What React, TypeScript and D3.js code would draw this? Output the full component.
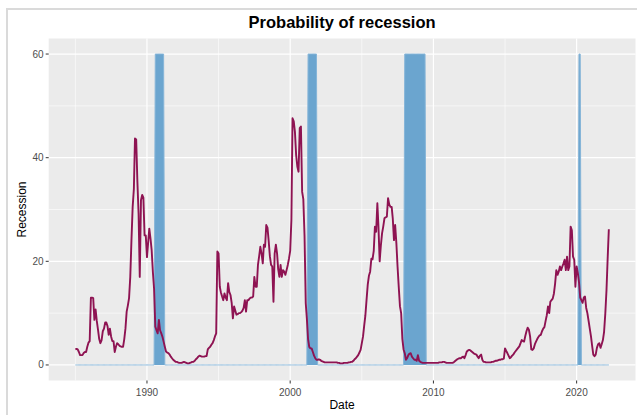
import React from "react";
import * as d3 from "d3";

// ---- data ----
const startYear = 1985; // monthly series starting January 1985
const probability: number[] = [
  // 1985
  3.0, 3.1, 3.0, 2.5, 1.9, 1.9, 1.9, 2.3, 2.5, 2.5, 3.5, 4.3,
  // 1986
  4.6, 13.0, 13.0, 12.9, 8.7, 10.7, 8.5, 6.8, 5.0, 4.2, 4.8, 6.5,
  // 1987
  7.0, 8.2, 8.2, 7.5, 5.8, 7.0, 5.5, 4.6, 4.6, 2.5, 3.5, 4.2,
  // 1988
  4.0, 3.7, 3.6, 3.5, 3.5, 5.0, 7.0, 10.3, 11.5, 12.9, 17.0, 24.0,
  // 1989
  30.5, 34.0, 43.7, 43.5, 35.5, 29.2, 17.0, 31.8, 32.8, 32.3, 25.0, 25.0,
  // 1990
  20.8, 23.7, 26.3, 24.4, 22.1, 17.9, 14.7, 7.4, 6.7, 6.1, 8.7, 6.7,
  // 1991
  6.1, 5.4, 4.5, 3.5, 2.6, 2.4, 2.3, 2.0, 1.6, 1.3, 1.0, 0.8,
  // 1992
  0.6, 0.6, 0.5, 0.4, 0.4, 0.4, 0.5, 0.6, 0.5, 0.4, 0.3, 0.3,
  // 1993
  0.4, 0.5, 0.6, 0.6, 0.8, 1.1, 1.3, 1.6, 1.8, 1.7, 1.6, 1.6,
  // 1994
  1.6, 1.7, 1.7, 3.0, 3.3, 3.5, 3.9, 4.2, 4.8, 5.5, 6.1, 21.9,
  // 1995
  21.5, 15.1, 14.0, 13.2, 12.5, 13.8, 13.0, 12.5, 15.8, 14.1, 13.5, 12.0,
  // 1996
  9.0, 11.3, 10.5, 9.7, 9.8, 10.0, 10.0, 10.2, 10.5, 11.0, 12.5, 10.3,
  // 1997
  12.5, 12.5, 12.8, 13.0, 13.0, 13.2, 17.0, 15.1, 15.1, 19.3, 21.0, 22.8,
  // 1998
  21.5, 19.6, 23.2, 22.8, 27.0, 26.5, 24.0, 21.0, 19.3, 19.0, 12.2, 21.5,
  // 1999
  23.2, 21.5, 18.5, 17.0, 19.3, 17.0, 18.3, 18.0, 17.4, 18.3, 19.3, 20.5,
  // 2000
  22.0, 28.0, 47.6, 47.0, 45.0, 40.5, 38.3, 37.3, 45.7, 46.0, 33.4, 32.0,
  // 2001
  25.0, 11.9, 9.0, 5.0, 3.5, 3.2, 3.2, 2.5, 1.8, 1.3, 1.0, 1.0,
  // 2002
  1.1, 1.0, 0.8, 0.7, 0.6, 0.5, 0.5, 0.5, 0.5, 0.5, 0.5, 0.5,
  // 2003
  0.5, 0.5, 0.5, 0.5, 0.4, 0.4, 0.3, 0.3, 0.3, 0.4, 0.4, 0.4,
  // 2004
  0.4, 0.5, 0.5, 0.6, 0.6, 0.8, 1.1, 1.3, 1.6, 1.9, 2.4, 2.9,
  // 2005
  4.2, 5.5, 7.5, 9.5, 12.5, 15.5, 17.2, 18.0, 20.5, 20.4, 22.0, 26.7,
  // 2006
  25.7, 31.2, 26.7, 20.0, 23.0, 25.4, 26.7, 28.3, 28.5, 28.6, 32.2, 31.0,
  // 2007
  30.5, 30.5, 28.3, 24.1, 27.0, 23.5, 19.0, 15.0, 11.3, 10.0, 5.0, 3.0,
  // 2008
  2.25, 1.0, 1.3, 1.9, 2.2, 2.25, 1.6, 1.3, 1.0, 1.0, 0.8, 1.9,
  // 2009
  0.8, 0.6, 0.5, 0.4, 0.4, 0.4, 0.4, 0.4, 0.4, 0.4, 0.4, 0.4,
  // 2010
  0.4, 0.4, 0.4, 0.4, 0.4, 0.5, 0.5, 0.5, 0.6, 0.6, 0.5, 0.4,
  // 2011
  0.4, 0.4, 0.4, 0.4, 0.4, 0.5, 0.7, 0.9, 1.1, 1.2, 1.3, 1.3,
  // 2012
  1.5, 1.6, 1.3, 1.9, 2.6, 2.8, 2.9, 2.8, 2.6, 2.4, 2.2, 2.1,
  // 2013
  2.0, 1.6, 1.3, 1.8, 2.0, 1.0, 0.6, 0.6, 0.5, 0.5, 0.5, 0.5,
  // 2014
  0.5, 0.6, 0.6, 0.7, 0.8, 0.8, 0.9, 1.0, 1.0, 1.1, 1.1, 1.2,
  // 2015
  3.2, 2.7, 2.3, 1.8, 1.3, 1.5, 1.8, 2.0, 2.4, 2.7, 3.0, 3.3,
  // 2016
  3.6, 4.2, 4.8, 4.6, 4.5, 5.6, 6.5, 7.2, 6.8, 5.5, 3.0, 2.9,
  // 2017
  3.2, 4.0, 4.5, 5.0, 5.4, 5.7, 5.8, 6.5, 7.0, 7.3, 8.5, 9.6,
  // 2018
  11.3, 10.0, 12.2, 12.5, 12.8, 13.8, 15.7, 18.3, 17.4, 18.0, 19.0, 18.3,
  // 2019
  19.0, 19.6, 20.3, 18.3, 20.9, 18.3, 19.0, 26.7, 26.0, 20.9, 20.3, 15.1,
  // 2020
  19.0, 17.7, 16.0, 13.0, 12.5, 12.0, 13.0, 13.2, 11.0, 10.0, 8.5, 7.0,
  // 2021
  5.5, 3.6, 2.0, 1.7, 2.0, 3.3, 4.0, 4.2, 3.3, 4.0, 4.8, 6.4,
  // 2022
  9.9, 14.5, 20.3, 26.2,
];

// NBER recession months (indicator = 1), drawn at height 60
const recessionStart = ["1990-08", "2001-04", "2008-01", "2020-03"];
const recessionEnd = ["1991-03", "2001-11", "2009-06", "2020-04"];
const recessionHeight = 60;

const xTickYears = [1990, 2000, 2010, 2020];
const xMinorYears = [1985, 1995, 2005, 2015];
const yTicks = [0, 20, 40, 60];
const yMinor = [10, 30, 50];

const title = "Probability of recession";
const xTitle = "Date";
const yTitle = "Recession";

// ---- helpers ----
const monthDate = (i: number) => new Date(Date.UTC(startYear, i, 1));
const parseMonth = (s: string) => {
  const [y, m] = s.split("-").map(Number);
  return (y - startYear) * 12 + (m - 1);
};

export default function App() {
  const W = 637, H = 415;
  const panel = { left: 48.7, right: 635.5, top: 38.5, bottom: 380.5 };
  const font = "'Liberation Sans', Arial, Helvetica, sans-serif";

  const series = probability.map((v, i) => ({ date: monthDate(i), v }));
  const recIdx = recessionStart.map((s, k) => [parseMonth(s), parseMonth(recessionEnd[k])]);
  const recSeries = probability.map((_, i) => ({
    date: monthDate(i),
    v: recIdx.some(([a, b]) => i >= a && i <= b) ? recessionHeight : 0,
  }));

  const d0 = series[0].date.getTime();
  const d1 = series[series.length - 1].date.getTime();
  const pad = (d1 - d0) * 0.05;
  const x = d3.scaleUtc().domain([new Date(d0 - pad), new Date(d1 + pad)]).range([panel.left, panel.right]);
  const y = d3.scaleLinear().domain([-3, 63]).range([panel.bottom, panel.top]);

  const yearX = (yr: number) => x(new Date(Date.UTC(yr, 0, 1)));

  const area = d3.area<{ date: Date; v: number }>()
    .x((d) => x(d.date)).y0(y(0)).y1((d) => y(d.v));
  const recLine = d3.line<{ date: Date; v: number }>()
    .x((d) => x(d.date)).y((d) => y(d.v));
  const line = d3.line<{ date: Date; v: number }>()
    .x((d) => x(d.date)).y((d) => y(d.v));

  return (
    <svg width={W} height={H} style={{ position: "absolute", left: 0, top: 0, background: "#fff" }}>
      <rect x={0} y={0} width={W} height={H} fill="#fff" />
      <rect x={7} y={9} width={W + 10} height={H + 10} fill="none" stroke="#dadada" strokeWidth={2} />
      <rect x={panel.left} y={panel.top} width={panel.right - panel.left} height={panel.bottom - panel.top} fill="#EBEBEB" />
      {yMinor.map((v) => (
        <line key={"ym" + v} x1={panel.left} x2={panel.right} y1={y(v)} y2={y(v)} stroke="#fff" strokeWidth={0.6} />
      ))}
      {xMinorYears.map((yr) => (
        <line key={"xm" + yr} x1={yearX(yr)} x2={yearX(yr)} y1={panel.top} y2={panel.bottom} stroke="#fff" strokeWidth={0.6} />
      ))}
      {yTicks.map((v) => (
        <line key={"yg" + v} x1={panel.left} x2={panel.right} y1={y(v)} y2={y(v)} stroke="#fff" strokeWidth={1.2} />
      ))}
      {xTickYears.map((yr) => (
        <line key={"xg" + yr} x1={yearX(yr)} x2={yearX(yr)} y1={panel.top} y2={panel.bottom} stroke="#fff" strokeWidth={1.2} />
      ))}

      <path d={area(recSeries) || ""} fill="#6BA5CF" />
      <path d={recLine(recSeries) || ""} fill="none" stroke="#86B5D8" strokeWidth={1} />
      <path d={line(series) || ""} fill="none" stroke="#8E1352" strokeWidth={1.9} strokeLinejoin="round" />

      {yTicks.map((v) => (
        <g key={"yt" + v}>
          <line x1={panel.left - 3} x2={panel.left} y1={y(v)} y2={y(v)} stroke="#333" strokeWidth={1} />
          <text x={panel.left - 5} y={y(v)} dy="0.35em" textAnchor="end" fontFamily={font} fontSize={10} fill="#4D4D4D">{v}</text>
        </g>
      ))}
      {xTickYears.map((yr) => (
        <g key={"xt" + yr}>
          <line x1={yearX(yr)} x2={yearX(yr)} y1={panel.bottom} y2={panel.bottom + 3} stroke="#333" strokeWidth={1} />
          <text x={yearX(yr)} y={panel.bottom + 15.5} textAnchor="middle" fontFamily={font} fontSize={10} fill="#4D4D4D">{yr}</text>
        </g>
      ))}

      <text x={(panel.left + panel.right) / 2} y={409} textAnchor="middle" fontFamily={font} fontSize={12} fill="#000">{xTitle}</text>
      <text transform={`translate(25.5, ${(panel.top + panel.bottom) / 2}) rotate(-90)`} textAnchor="middle" fontFamily={font} fontSize={12} fill="#000">{yTitle}</text>
      <text x={(panel.left + panel.right) / 2} y={28} textAnchor="middle" fontFamily={font} fontSize={16.5} fontWeight="bold" fill="#000">{title}</text>
    </svg>
  );
}
